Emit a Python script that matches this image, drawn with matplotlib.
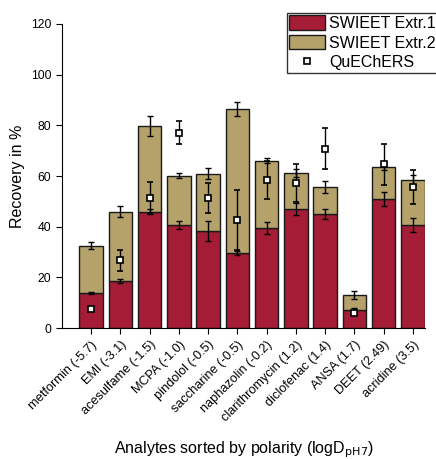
import matplotlib.pyplot as plt
from matplotlib.lines import Line2D
from matplotlib.patches import Patch
import numpy as np

plt.rcParams['font.family'] = ['Liberation Sans', 'DejaVu Sans']

analytes = ['metformin (-5.7)', 'EMI (-3.1)', 'acesulfame (-1.5)', 'MCPA (-1.0)',
            'pindolol (-0.5)', 'saccharine (-0.5)', 'naphazolin (-0.2)',
            'clarithromycin (1.2)', 'diclofenac (1.4)', 'ANSA (1.7)',
            'DEET (2.49)', 'acridine (3.5)']

extr1 = [13.8, 18.6, 46.0, 40.7, 38.3, 29.6, 39.6, 47.0, 45.0, 7.1, 51.0, 40.8]
extr1_err = [0.4, 0.8, 0.9, 1.5, 4.0, 0.9, 2.4, 2.4, 2.0, 0.9, 2.8, 2.8]
extr2 = [18.8, 27.3, 33.7, 19.4, 22.6, 56.8, 26.4, 14.2, 10.7, 6.0, 12.4, 17.7]
extr2_err = [1.5, 2.1, 4.1, 0.9, 2.1, 2.9, 1.0, 1.5, 2.4, 1.6, 0.9, 2.0]
quechers = [7.5, 26.7, 51.3, 77.1, 51.4, 42.6, 58.3, 57.2, 70.8, 5.9, 64.7, 55.6]
quechers_err = [0.0, 4.0, 6.2, 4.5, 5.8, 11.9, 7.5, 7.4, 8.2, 0.0, 8.1, 6.6]

x = np.arange(len(analytes))
total = np.array(extr1) + np.array(extr2)

fig = plt.figure(figsize=(4.36, 4.59), dpi=100)
ax = fig.add_axes([0.142, 0.285, 0.833, 0.663])

c1 = '#A51C36'
c2 = '#B5A26A'
ax.bar(x, extr1, width=0.8, color=c1, edgecolor='#1a1a1a', linewidth=1.0, zorder=2)
ax.bar(x, extr2, width=0.8, bottom=extr1, color=c2, edgecolor='#1a1a1a',
       linewidth=1.0, zorder=2)

ax.errorbar(x, extr1, yerr=extr1_err, fmt='none', ecolor='black',
            elinewidth=1.0, capsize=2.3, capthick=1.0, zorder=3)
ax.errorbar(x, total, yerr=extr2_err, fmt='none', ecolor='black',
            elinewidth=1.0, capsize=2.3, capthick=1.0, zorder=3)
ax.errorbar(x, quechers, yerr=quechers_err, fmt='s', mfc='white', mec='black',
            mew=1.2, ms=5, ecolor='black', elinewidth=1.0, capsize=2.3,
            capthick=1.0, zorder=4)

ax.set_xlim(-1.0, 11.42)
ax.set_ylim(0, 120)
ax.set_yticks(np.arange(0, 121, 20))
ax.set_xticks(x)
ax.set_xticklabels(analytes, rotation=45, ha='right', rotation_mode='anchor',
                   fontsize=9.2)
ax.tick_params(axis='y', labelsize=8.8, direction='out', length=4)
ax.tick_params(axis='x', direction='out', length=4)
for s in ['top', 'right']:
    ax.spines[s].set_visible(False)

ax.set_ylabel('Recovery in %', fontsize=11.5)
ax.set_xlabel('Analytes sorted by polarity (logD$_{\\mathrm{pH7}}$)', fontsize=11.5,
              labelpad=11)

handles = [Patch(facecolor=c1, edgecolor='#1a1a1a', label='SWIEET Extr.1'),
           Patch(facecolor=c2, edgecolor='#1a1a1a', label='SWIEET Extr.2'),
           Line2D([], [], marker='s', ls='none', mfc='white', mec='black',
                  mew=1.2, ms=4.5, label='QuEChERS')]
leg = ax.legend(handles=handles, loc='upper left', bbox_to_anchor=(0.62, 1.036),
                fontsize=11.5, frameon=True, fancybox=False, edgecolor='black',
                borderpad=0.15, handlelength=2.2, handleheight=1.0,
                labelspacing=0.25, handletextpad=0.3, borderaxespad=0)
leg.get_frame().set_linewidth(1.0)

fig.savefig('out.png', dpi=100)
